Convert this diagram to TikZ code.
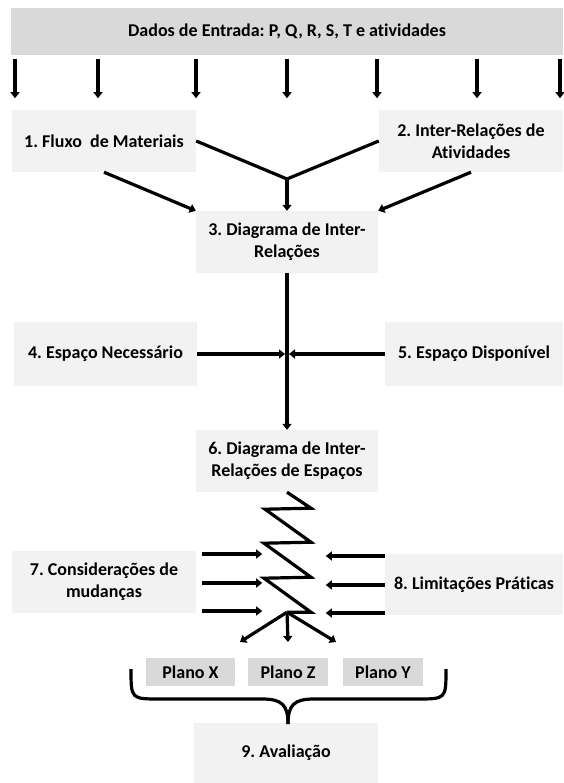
\documentclass[tikz,border=0pt]{standalone}
\usepackage{fontspec}
\setmainfont{Carlito}[Ligatures=NoCommon]
\usetikzlibrary{arrows.meta}
\usetikzlibrary{calc}
\usetikzlibrary{positioning}
\definecolor{cinzaclaro}{HTML}{F2F2F2}
\definecolor{cinzaescuro}{HTML}{D9D9D9}
\tikzset{
    caixa/.style={fill=cinzaclaro, align=center, inner sep=0pt,
        font=\bfseries\fontsize{18}{22}\selectfont\frenchspacing},
    plano/.style={caixa, fill=cinzaescuro, minimum width=80pt, minimum height=28pt},
    linha/.style={line width=3.2pt, line join=miter},
    seta/.style={linha, -{Triangle[length=6pt,width=9pt]}}
}
\begin{document}
\begin{tikzpicture}[x=1pt,y=-1pt]
    \useasboundingbox (0,0) rectangle (563,783);

    \node[caixa, fill=cinzaescuro, minimum width=552pt, minimum height=47pt] (dados) at (287,31.5) {Dados de Entrada: P, Q, R, S, T e atividades};
    \node[caixa, minimum width=184pt, minimum height=62pt] (fluxo) at (104,141) {1. Fluxo\ \ de Materiais};
    \node[caixa, minimum width=184pt, minimum height=62pt] (inter) at (471,141) {2. Inter-Relações de\\Atividades};
    \node[caixa, minimum width=182pt, minimum height=62pt] (diagrama) at (287,242) {3. Diagrama de Inter-\\Relações};
    \node[caixa, minimum width=183pt, minimum height=64pt] (necessario) at (105.5,354) {4. Espaço Necessário};
    \node[caixa, minimum width=178pt, minimum height=64pt] (disponivel) at (474,354) {5. Espaço Disponível};
    \node[caixa, minimum width=182pt, minimum height=62pt] (espacos) at (287,461) {6. Diagrama de Inter-\\Relações de Espaços};
    \node[caixa, minimum width=184pt, minimum height=62pt] (mudancas) at (104,582) {7. Considerações de\\mudanças};
    \node[caixa, minimum width=178pt, minimum height=61pt] (limitacoes) at (474,584.5) {8. Limitações Práticas};
    \node[plano, minimum width=89pt] (planoX) at (190.5,672) {Plano X};
    \node[plano] (planoZ) at (288,672) {Plano Z};
    \node[plano] (planoY) at (383,672) {Plano Y};
    \node[caixa, minimum width=184pt, minimum height=60pt] (avaliacao) at (286,753) {9. Avaliação};

    % setas dos dados de entrada
    \foreach \x in {15,98,196,287,377,477,560} {
        \path (\x,0) coordinate (c);
        \draw[seta] ($(dados.south -| c)+(0,4)$) -- ++(0,39);
    }

    % 1 e 2 -> 3
    \coordinate (j) at (287,179);
    \draw[linha] (fluxo.east) -- (j) -- (inter.west);
    \draw[seta] (j) -- (diagrama.north);
    \draw[seta] (fluxo.south) -- (diagrama.north west);
    \draw[seta] (inter.south) -- (diagrama.north east);

    % 3, 4 e 5 -> 6
    \coordinate (m) at (diagrama.south |- necessario.east);
    \draw[seta] (diagrama.south) -- (espacos.north);
    \draw[seta] (necessario.east) -- ($(m)+(-2,0)$);
    \draw[seta] (disponivel.west) -- ($(m)+(2,0)$);

    % zigue-zague
    \draw[linha] (espacos.south) -- ++(24,16) -- ++(-46,1) -- ++(46,33) -- ++(-47,1)
        -- ++(47,34) -- ++(-47,1) -- ++(47,34) -- ++(-24,0) coordinate (z);
    \foreach \y in {554,583,611} {
        \path (0,\y) coordinate (h);
        \draw[seta] ($(mudancas.east |- h)+(6,0)$) -- ++(60,0);
        \draw[seta] ($(limitacoes.west |- h)+(0,2)$) -- ++(-59,0);
    }
    \coordinate (pX) at (240,642);
    \coordinate (pZ) at (288,642);
    \coordinate (pY) at (336,642);
    \draw[seta] (z) -- (pX);
    \draw[seta] (z) -- (pZ);
    \draw[seta] (z) -- (pY);

    % chave
    \draw[linha] (131,669) .. controls (131,699) and (131,699) .. (160,699) -- (262,699)
        .. controls (282,699) and (288,705) .. (288,724);
    \draw[linha] (446,669) .. controls (446,699) and (446,699) .. (417,699) -- (314,699)
        .. controls (294,699) and (288,705) .. (288,724);

\end{tikzpicture}
\end{document}
